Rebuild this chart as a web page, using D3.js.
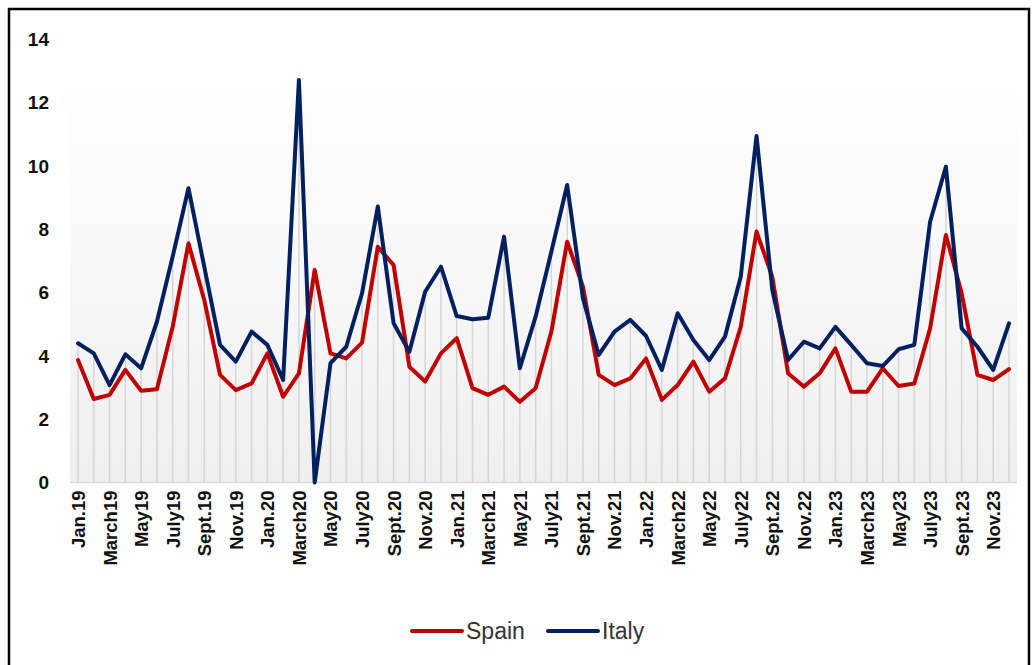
<!DOCTYPE html>
<html>
<head>
<meta charset="utf-8">
<script src="https://cdn.jsdelivr.net/npm/d3@7"></script>
<style>
  body { margin: 0; background: #fff; }
  svg { display: block; font-family: "Liberation Sans", Arial, sans-serif; }
</style>
</head>
<body>
<div id="chart"></div>
<script>
// Month labels (every month, Jan.19 .. Dec.23)
var monthNames = ["Jan.", "Feb.", "March", "April", "May", "June", "July", "Aug.", "Sept.", "Oct.", "Nov.", "Dec."];
var months = [];
[19, 20, 21, 22, 23].forEach(function(y) {
  monthNames.forEach(function(m) { months.push(m + y); });
});

// Tick labels shown on the x axis (every second month)
var tickLabels = ["Jan.19", "March19", "May19", "July19", "Sept.19", "Nov.19",
  "Jan.20", "March20", "May20", "July20", "Sept.20", "Nov.20",
  "Jan.21", "March21", "May21", "July21", "Sept.21", "Nov.21",
  "Jan.22", "March22", "May22", "July22", "Sept.22", "Nov.22",
  "Jan.23", "March23", "May23", "July23", "Sept.23", "Nov.23"];

var spain = [3.87, 2.64, 2.77, 3.56, 2.90, 2.95, 4.92, 7.56, 5.77, 3.40, 2.92, 3.13,
  4.08, 2.71, 3.45, 6.72, 4.08, 3.92, 4.42, 7.45, 6.87, 3.66, 3.19, 4.08,
  4.56, 2.98, 2.77, 3.03, 2.55, 2.98, 4.77, 7.61, 6.19, 3.40, 3.08, 3.29,
  3.92, 2.61, 3.08, 3.82, 2.87, 3.29, 4.92, 7.93, 6.50, 3.45, 3.03, 3.45,
  4.24, 2.87, 2.87, 3.61, 3.05, 3.13, 4.87, 7.82, 5.98, 3.40, 3.24, 3.58];

var italy = [4.40, 4.08, 3.08, 4.05, 3.61, 5.08, 7.14, 9.30, 6.82, 4.35, 3.82, 4.77,
  4.35, 3.24, 12.72, 0.0, 3.77, 4.29, 5.98, 8.72, 5.03, 4.13, 6.03, 6.82,
  5.26, 5.16, 5.21, 7.77, 3.61, 5.24, 7.30, 9.40, 5.82, 4.03, 4.77, 5.14,
  4.63, 3.56, 5.35, 4.50, 3.87, 4.61, 6.50, 10.95, 6.08, 3.87, 4.45, 4.24,
  4.92, 4.35, 3.77, 3.68, 4.21, 4.35, 8.24, 9.98, 4.87, 4.29, 3.56, 5.03];

var yTicks = [0, 2, 4, 6, 8, 10, 12, 14];

var seriesNames = ["Spain", "Italy"];
var seriesColors = ["#c00000", "#002060"];

// SVG dimensions
var svgWidth = 1035;
var svgHeight = 665;

var svg = d3.select("#chart")
  .append("svg")
  .attr("width", svgWidth)
  .attr("height", svgHeight);

// Gradient for the plot background
var defs = svg.append("defs");
var grad = defs.append("linearGradient")
  .attr("id", "bg")
  .attr("x1", 0).attr("y1", 0).attr("x2", 0).attr("y2", 1);
grad.append("stop").attr("offset", "0%").attr("stop-color", "#fefefe");
grad.append("stop").attr("offset", "100%").attr("stop-color", "#efefef");

// Scales
var xScale = d3.scalePoint()
  .domain(months)
  .range([78, 1009]);

var yScale = d3.scaleLinear()
  .domain([0, 14])
  .range([482.5, 39.5]);

// Plot background
svg.append("rect")
  .attr("x", 70)
  .attr("y", 89)
  .attr("width", 947)
  .attr("height", yScale(0) - 89)
  .attr("fill", "url(#bg)");

// Drop lines from the higher point down to the axis
svg.append("g")
  .selectAll("line")
  .data(months)
  .enter()
  .append("line")
  .attr("x1", d => xScale(d))
  .attr("x2", d => xScale(d))
  .attr("y1", yScale(0))
  .attr("y2", (d, i) => yScale(Math.max(spain[i], italy[i])))
  .attr("stroke", "#d6d6d6")
  .attr("stroke-width", 1.5);

// Bottom axis line
svg.append("line")
  .attr("x1", 70)
  .attr("x2", 1017)
  .attr("y1", yScale(0))
  .attr("y2", yScale(0))
  .attr("stroke", "#d9d9d9")
  .attr("stroke-width", 1.5);

// Y axis labels
var leftAxis = d3.axisLeft(yScale).tickValues(yTicks).tickSize(0).tickPadding(0);
var yAxisG = svg.append("g")
  .attr("transform", "translate(49,0)")
  .call(leftAxis);
yAxisG.select(".domain").remove();
yAxisG.selectAll("text")
  .attr("font-size", 19)
  .attr("font-weight", "bold")
  .attr("fill", "#111")
  .style("font-family", "Liberation Sans, Arial, sans-serif");

// X axis labels (rotated)
var bottomAxis = d3.axisBottom(xScale).tickValues(tickLabels).tickSize(0).tickPadding(0);
var xAxisG = svg.append("g")
  .attr("transform", `translate(0, ${yScale(0)})`)
  .call(bottomAxis);
xAxisG.select(".domain").remove();
xAxisG.selectAll("text")
  .attr("transform", "rotate(-90)")
  .attr("x", -8)
  .attr("y", 0)
  .attr("dy", "0.35em")
  .attr("text-anchor", "end")
  .attr("font-size", 18.5)
  .attr("font-weight", "bold")
  .attr("fill", "#111")
  .style("font-family", "Liberation Sans, Arial, sans-serif");

// Lines
var line = d3.line()
  .x((d, i) => xScale(months[i]))
  .y(d => yScale(d));

[spain, italy].forEach(function(series, k) {
  svg.append("path")
    .datum(series)
    .attr("fill", "none")
    .attr("stroke", seriesColors[k])
    .attr("stroke-width", 4)
    .attr("stroke-linejoin", "round")
    .attr("stroke-linecap", "round")
    .attr("d", line);
});

// Legend
var legendX = [412, 548];
seriesNames.forEach(function(name, k) {
  var g = svg.append("g").attr("transform", `translate(${legendX[k]}, 631)`);
  g.append("line")
    .attr("x1", 0).attr("x2", 50)
    .attr("y1", 0).attr("y2", 0)
    .attr("stroke", seriesColors[k])
    .attr("stroke-width", 4)
    .attr("stroke-linecap", "round");
  g.append("text")
    .attr("x", 54)
    .attr("y", 0)
    .attr("dy", "0.35em")
    .attr("font-size", 23)
    .attr("fill", "#333")
    .text(name);
});

// Outer frame
svg.append("rect")
  .attr("x", 9)
  .attr("y", 9)
  .attr("width", 1020)
  .attr("height", 680)
  .attr("fill", "none")
  .attr("stroke", "#000")
  .attr("stroke-width", 2.5);
</script>
</body>
</html>
